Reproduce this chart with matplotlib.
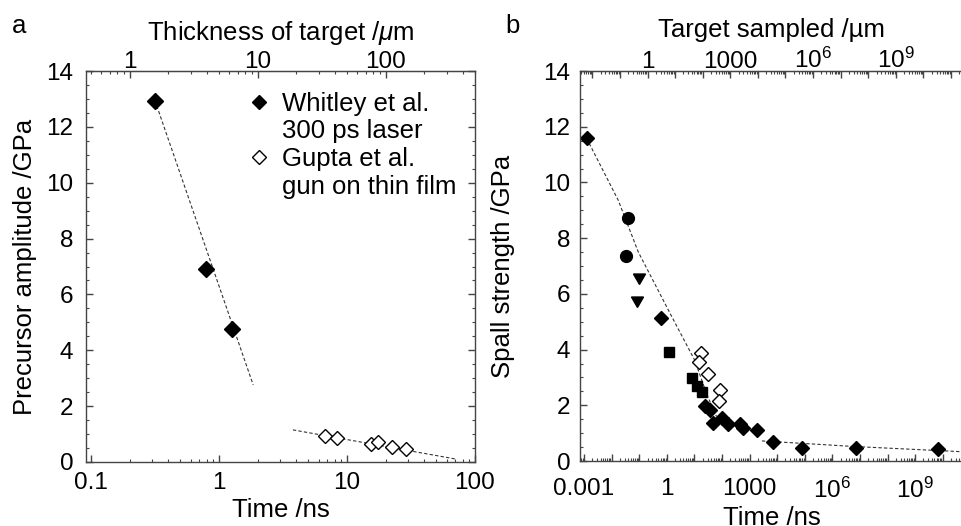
import numpy as np
import matplotlib
matplotlib.use("Agg")
import matplotlib.pyplot as plt
from matplotlib.ticker import LogLocator, MultipleLocator, FuncFormatter, NullFormatter
from matplotlib.lines import Line2D

plt.rcParams['font.family'] = ['Liberation Sans', 'DejaVu Sans']
plt.rcParams['mathtext.fontset'] = 'custom'
plt.rcParams['mathtext.rm'] = 'Liberation Sans'
plt.rcParams['mathtext.it'] = 'Liberation Sans:italic'

# ---------------- Panel a data ----------------
whitley_time = [0.316, 0.787, 1.27]
whitley_amp = [12.94, 6.91, 4.75]
gupta_time = [6.73, 8.35, 15.4, 17.5, 22.5, 28.9]
gupta_amp = [0.93, 0.87, 0.63, 0.70, 0.55, 0.47]
fit_a1_time = [0.316, 1.85]
fit_a1_amp = [12.94, 2.76]
fit_a2_time = [3.78, 72.0]
fit_a2_amp = [1.15, 0.10]
legend_labels = ['Whitley et al.', '300 ps laser', 'Gupta et al.', 'gun on thin film']

# ---------------- Panel b data ----------------
diam_time = [1.25e-3, 0.60, 24.2, 36.7, 48.4, 97.5, 169, 449, 592, 1808, 7230, 7.73e4, 7.2e6, 6.9e9]
diam_spall = [11.58, 5.15, 1.98, 1.83, 1.36, 1.56, 1.32, 1.32, 1.20, 1.12, 0.67, 0.45, 0.45, 0.43]
circ_time = [0.0383, 0.0324]
circ_spall = [8.72, 7.37]
tri_time = [0.0984, 0.081]
tri_spall = [6.60, 5.79]
sq_time = [1.23, 7.98, 12.7, 18.4]
sq_spall = [3.90, 2.99, 2.69, 2.48]
open_time = [17.3, 15.1, 31.9, 84.7, 77.9]
open_spall = [3.86, 3.55, 3.13, 2.55, 2.15]
fit_b1_time = [1.25e-3, 0.0174, 0.093, 1.5, 10.5, 27.9, 63]
fit_b1_spall = [11.58, 9.36, 7.5, 5.19, 3.6, 2.4, 1.6]
fit_b2_time = [2.8e3, 6.3e6, 5.9e10]
fit_b2_spall = [0.72, 0.52, 0.33]

TARGET_FACTOR = 5.0  # micrometres per ns

W, H = 962, 526
fig = plt.figure(figsize=(W / 100, H / 100), dpi=100)

SP = '#444444'
DASH = dict(color='#333333', lw=0.8, dashes=(3, 2))
FS_TICK = 17.5
FS_LAB = 18.5


def px_axes(l, r, t, b):
    return [l / W, 1 - b / H, (r - l) / W, (b - t) / H]


def style(ax):
    for s in ax.spines.values():
        s.set_color(SP)
        s.set_linewidth(1.0)


def fmt_plain(v, pos):
    return f'{v:g}'


# ================= Panel a =================
axa = fig.add_axes(px_axes(86, 475, 71, 462))
style(axa)
axa.set_xscale('log')
axa.set_xlim(0.0914, 100)
axa.set_ylim(0, 14)
axa.plot(fit_a1_time, fit_a1_amp, **DASH)
axa.plot(fit_a2_time, fit_a2_amp, **DASH)
axa.plot(whitley_time, whitley_amp, 'D', color='black', ms=8.5, ls='none')
axa.plot(gupta_time, gupta_amp, 'D', mfc='white', mec='black', mew=1.0, ms=7.5, ls='none')
axa.xaxis.set_major_locator(LogLocator(base=10, numticks=20))
axa.xaxis.set_minor_locator(LogLocator(base=10, subs=np.arange(2, 10), numticks=20))
axa.xaxis.set_minor_formatter(NullFormatter())
axa.xaxis.set_major_formatter(FuncFormatter(fmt_plain))
axa.yaxis.set_major_locator(MultipleLocator(2))
axa.yaxis.set_minor_locator(MultipleLocator(0.5))
axa.tick_params(which='both', direction='in', colors=SP, labelcolor='black',
                labelsize=FS_TICK, right=True, top=False)
axa.tick_params(which='major', length=5, width=1)
axa.tick_params(which='minor', length=2.5, width=0.8)
axa.tick_params(axis='x', pad=7)
axa.tick_params(axis='y', pad=9)
axa.set_xlabel('Time /ns', fontsize=FS_LAB, labelpad=3)
axa.set_ylabel('Precursor amplitude /GPa', fontsize=FS_LAB, labelpad=7)

seca = axa.secondary_xaxis('top', functions=(lambda t: t * TARGET_FACTOR,
                                              lambda d: d / TARGET_FACTOR))
seca.xaxis.set_major_locator(LogLocator(base=10, numticks=20))
seca.xaxis.set_minor_locator(LogLocator(base=10, subs=np.arange(2, 10), numticks=20))
seca.xaxis.set_minor_formatter(NullFormatter())
seca.xaxis.set_major_formatter(FuncFormatter(fmt_plain))
seca.tick_params(which='both', direction='in', colors=SP, labelcolor='black',
                 labelsize=FS_TICK, pad=-1.5)
seca.tick_params(which='major', length=5, width=1)
seca.tick_params(which='minor', length=2.5, width=0.8)
seca.spines['top'].set_color(SP)
seca.set_xlabel(r'Thickness of target /$\mu$m', fontsize=FS_LAB, labelpad=8)

handles = [Line2D([], [], marker='D', color='black', ls='none', ms=7.5),
           Line2D([], [], ls='none'),
           Line2D([], [], marker='D', mfc='white', mec='black', mew=1.0, ls='none', ms=7.5),
           Line2D([], [], ls='none')]
leg = axa.legend(handles, legend_labels,
                 loc='upper left', bbox_to_anchor=(0.418, 0.947), frameon=False,
                 fontsize=FS_LAB, handlelength=0.8, handletextpad=0.49,
                 labelspacing=0.14, borderaxespad=0, borderpad=0)

fig.text(12 / W, 1 - 33 / H, 'a', fontsize=FS_LAB, va='baseline', ha='left')

# ================= Panel b =================
axb = fig.add_axes(px_axes(580, 964, 71, 461))
style(axb)
axb.spines['right'].set_visible(False)
axb.set_xscale('log')
axb.set_xlim(10 ** -3.145, 10 ** 10.77)
axb.set_ylim(0, 14)
axb.plot(fit_b1_time, fit_b1_spall, **DASH)
axb.plot(fit_b2_time, fit_b2_spall, **DASH)
axb.plot(circ_time, circ_spall, 'o', color='black', ms=8.5, ls='none')
axb.plot(tri_time, tri_spall, marker=(3, 0, 180), color='black', ms=10, ls='none')
axb.plot(sq_time, sq_spall, 's', color='black', ms=6.5, ls='none')
axb.plot(open_time, open_spall, 'D', mfc='white', mec='black', mew=1.0, ms=7, ls='none')
axb.plot(diam_time, diam_spall, 'D', color='black', ms=7, ls='none')


def fmt_b(v, pos):
    lv = np.log10(v)
    e = int(round(lv))
    if abs(lv - e) > 1e-6:
        return ''
    if e == -3:
        return '0.001'
    if e == 0:
        return '1'
    if e == 3:
        return '1000'
    if e in (6, 9):
        return r'$10^{%d}$' % e
    return ''


axb.xaxis.set_major_locator(LogLocator(base=10, numticks=40))
axb.xaxis.set_minor_locator(LogLocator(base=10, subs=np.arange(2, 10), numticks=40))
axb.xaxis.set_minor_formatter(NullFormatter())
axb.xaxis.set_major_formatter(FuncFormatter(fmt_b))
axb.yaxis.set_major_locator(MultipleLocator(2))
axb.yaxis.set_minor_locator(MultipleLocator(0.5))
axb.tick_params(which='both', direction='in', colors=SP, labelcolor='black',
                labelsize=FS_TICK, right=False, top=False)
axb.tick_params(which='major', length=5, width=1)
axb.tick_params(which='minor', length=2.5, width=0.8)
axb.tick_params(axis='x', pad=12)
axb.tick_params(axis='y', pad=7)
axb.set_xlabel('Time /ns', fontsize=FS_LAB, labelpad=2)
axb.set_ylabel('Spall strength /GPa', fontsize=FS_LAB, labelpad=20)

secb = axb.secondary_xaxis('top', functions=(lambda t: t * TARGET_FACTOR,
                                              lambda d: d / TARGET_FACTOR))
secb.xaxis.set_major_locator(LogLocator(base=10, numticks=40))
secb.xaxis.set_minor_locator(LogLocator(base=10, subs=np.arange(2, 10), numticks=40))
secb.xaxis.set_minor_formatter(NullFormatter())
secb.xaxis.set_major_formatter(FuncFormatter(fmt_b))
secb.tick_params(which='both', direction='in', colors=SP, labelcolor='black',
                 labelsize=FS_TICK, pad=-1.5)
secb.tick_params(which='major', length=5, width=1)
secb.tick_params(which='minor', length=2.5, width=0.8)
secb.spines['top'].set_color(SP)
secb.set_xlabel('Target sampled /µm', fontsize=FS_LAB, labelpad=7.5)

fig.text(505 / W, 1 - 33 / H, 'b', fontsize=FS_LAB, va='baseline', ha='left')

fig.savefig('out.png', dpi=100)
